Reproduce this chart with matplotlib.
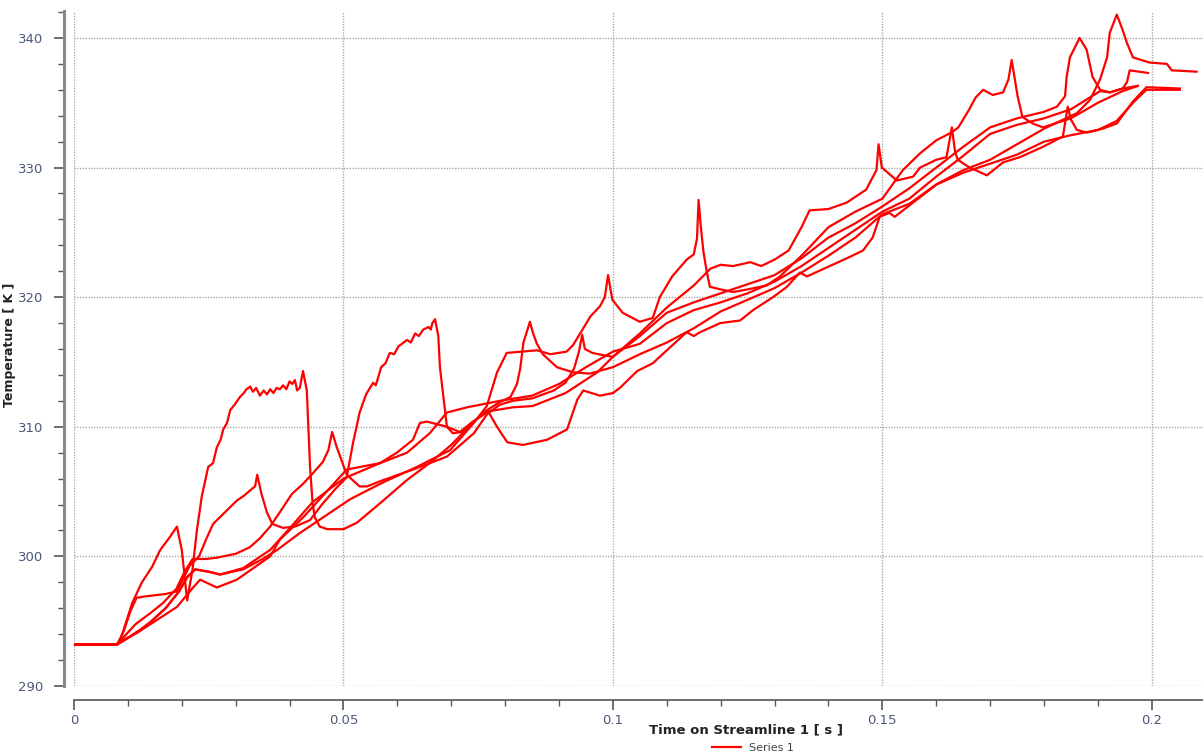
import numpy as np
import matplotlib
matplotlib.use("Agg")
import matplotlib.pyplot as plt
from matplotlib.ticker import MultipleLocator

# streamline temperature traces: (time [s], temperature [K])
stream1 = [(0, 293.2), (0.008, 293.2), (0.0088, 293.8), (0.0108, 296.4), (0.0126, 298.0), (0.0145, 299.2),
           (0.016, 300.5), (0.0178, 301.5), (0.0191, 302.3), (0.020, 300.5), (0.021, 296.6), (0.022, 299.0),
           (0.0228, 302.0), (0.0237, 304.6), (0.0249, 306.9), (0.0258, 307.2), (0.0265, 308.4), (0.0272, 309.0),
           (0.0277, 309.8), (0.0284, 310.3), (0.029, 311.3), (0.0298, 311.7), (0.0308, 312.3), (0.0315, 312.6),
           (0.032, 312.9), (0.0327, 313.1), (0.0332, 312.7), (0.0338, 313.0), (0.0345, 312.4), (0.0352, 312.8),
           (0.0358, 312.5), (0.0364, 312.9), (0.037, 312.6), (0.0376, 313.0), (0.0382, 312.9), (0.0388, 313.2),
           (0.0394, 312.9), (0.040, 313.5), (0.0405, 313.3), (0.041, 313.6), (0.0414, 312.8), (0.0419, 313.0),
           (0.0425, 314.3), (0.0432, 312.8), (0.0438, 306.9), (0.0443, 304.0), (0.0447, 303.0), (0.0456, 302.3),
           (0.047, 302.1), (0.05, 302.1), (0.0525, 302.6), (0.0568, 304.1), (0.0618, 305.9), (0.066, 307.2),
           (0.070, 308.6), (0.0742, 310.4), (0.0767, 311.3), (0.0785, 310.0), (0.0804, 308.8), (0.0833, 308.6),
           (0.0878, 309.0), (0.0915, 309.8), (0.0934, 312.1), (0.0945, 312.8), (0.0976, 312.4), (0.1, 312.6),
           (0.1013, 313.0), (0.1045, 314.3), (0.1074, 314.9), (0.110, 315.9), (0.1137, 317.3), (0.115, 317.0),
           (0.1162, 317.3), (0.1199, 318.0), (0.1236, 318.2), (0.126, 319.0), (0.1297, 320.0), (0.1323, 320.8),
           (0.1347, 321.9), (0.136, 321.6), (0.1397, 322.3), (0.1434, 323.0), (0.1464, 323.6), (0.1482, 324.6),
           (0.1495, 326.2), (0.1513, 326.5), (0.1523, 326.2), (0.1557, 327.3), (0.1601, 328.7), (0.165, 329.6),
           (0.17, 330.3), (0.175, 331.0), (0.18, 332.0), (0.185, 332.5), (0.19, 332.9), (0.1935, 333.6),
           (0.1965, 335.0), (0.199, 336.0), (0.2052, 336.0)]

stream2 = [(0, 293.2), (0.008, 293.2), (0.0092, 294.2), (0.0105, 295.8), (0.0116, 296.8), (0.013, 296.9),
           (0.015, 297.0), (0.017, 297.1), (0.0191, 297.3), (0.0203, 298.3), (0.0215, 299.3), (0.0232, 300.0),
           (0.0245, 301.3), (0.0258, 302.5), (0.028, 303.4), (0.0302, 304.3), (0.0316, 304.7), (0.0327, 305.1),
           (0.0336, 305.4), (0.034, 306.3), (0.0348, 304.8), (0.0358, 303.4), (0.0368, 302.5), (0.0388, 302.2),
           (0.041, 302.3), (0.0438, 302.8), (0.046, 304.0), (0.0485, 305.2), (0.0506, 306.1), (0.0518, 308.8),
           (0.053, 311.1), (0.0542, 312.5), (0.0555, 313.4), (0.056, 313.2), (0.057, 314.6), (0.0578, 314.9),
           (0.0586, 315.7), (0.0594, 315.6), (0.0602, 316.2), (0.0618, 316.7), (0.0625, 316.5), (0.0633, 317.2),
           (0.064, 317.0), (0.0648, 317.5), (0.0658, 317.7), (0.0662, 317.5), (0.0665, 318.0), (0.067, 318.3),
           (0.0676, 317.0), (0.0679, 314.6), (0.0692, 310.0), (0.0703, 309.5), (0.072, 309.6), (0.0742, 310.4),
           (0.0767, 311.3), (0.079, 311.9), (0.081, 312.3), (0.0822, 313.3), (0.0828, 314.5), (0.0834, 316.5),
           (0.0846, 318.1), (0.0852, 317.2), (0.0859, 316.4), (0.087, 315.6), (0.0896, 314.6), (0.0926, 314.2),
           (0.0957, 314.1), (0.1, 314.6), (0.105, 315.6), (0.11, 316.5), (0.115, 317.6), (0.12, 318.9),
           (0.125, 319.8), (0.13, 320.7), (0.135, 321.9), (0.14, 323.2), (0.145, 324.6), (0.15, 326.4),
           (0.155, 327.2), (0.16, 328.7), (0.165, 329.8), (0.17, 330.6), (0.175, 331.8), (0.18, 333.0),
           (0.1861, 334.2), (0.1885, 335.2), (0.1904, 336.8), (0.1917, 338.5), (0.1922, 340.4), (0.1935, 341.8),
           (0.1946, 340.6), (0.1954, 339.6), (0.1965, 338.5), (0.1996, 338.1), (0.2028, 338.0), (0.2037, 337.5),
           (0.2083, 337.4)]

stream3 = [(0, 293.2), (0.008, 293.2), (0.0095, 293.9), (0.0115, 294.8), (0.0141, 295.6), (0.0165, 296.4),
           (0.019, 297.5), (0.0205, 298.8), (0.022, 299.8), (0.0245, 299.8), (0.0265, 299.9), (0.03, 300.2),
           (0.0326, 300.7), (0.0345, 301.4), (0.0364, 302.3), (0.0385, 303.6), (0.0404, 304.8), (0.0425, 305.6),
           (0.0443, 306.4), (0.0462, 307.3), (0.0472, 308.2), (0.0479, 309.6), (0.0487, 308.5), (0.0494, 307.7),
           (0.0506, 306.3), (0.053, 305.4), (0.0544, 305.4), (0.0568, 305.8), (0.0629, 306.7), (0.0692, 307.7),
           (0.0742, 309.5), (0.0767, 311.0), (0.079, 311.7), (0.0814, 312.0), (0.0851, 312.2), (0.089, 312.8),
           (0.0912, 313.4), (0.0928, 314.5), (0.0937, 315.8), (0.0943, 317.1), (0.0948, 316.0), (0.0962, 315.7),
           (0.0985, 315.5), (0.1, 315.4), (0.105, 317.2), (0.11, 319.2), (0.115, 320.9), (0.1181, 322.2),
           (0.12, 322.5), (0.1223, 322.4), (0.1255, 322.7), (0.1275, 322.4), (0.13, 322.9), (0.1326, 323.6),
           (0.135, 325.4), (0.1365, 326.7), (0.14, 326.8), (0.1434, 327.3), (0.147, 328.3), (0.1489, 329.8),
           (0.1493, 331.8), (0.1499, 330.0), (0.1527, 329.0), (0.1557, 329.3), (0.157, 330.0), (0.16, 330.6),
           (0.1619, 330.8), (0.1629, 333.1), (0.1635, 331.2), (0.164, 330.6), (0.1662, 330.0), (0.1694, 329.4),
           (0.1724, 330.4), (0.1755, 330.8), (0.1798, 331.6), (0.1835, 332.4), (0.1844, 334.7), (0.185, 333.7),
           (0.1861, 332.9), (0.188, 332.7), (0.1909, 333.0), (0.1935, 333.4), (0.1965, 335.1), (0.199, 336.2),
           (0.2052, 336.1)]

stream4 = [(0, 293.2), (0.008, 293.2), (0.01, 293.7), (0.0125, 294.4), (0.0141, 294.9), (0.017, 296.0),
           (0.0195, 297.3), (0.021, 298.4), (0.0225, 299.0), (0.0252, 298.8), (0.0271, 298.6), (0.0314, 299.1),
           (0.0364, 300.5), (0.0401, 302.2), (0.0443, 304.2), (0.05, 306.0), (0.0568, 307.2), (0.0599, 308.0),
           (0.0629, 309.0), (0.0642, 310.3), (0.0655, 310.4), (0.0692, 310.0), (0.0716, 309.6), (0.074, 310.4),
           (0.077, 311.2), (0.0814, 311.5), (0.0851, 311.6), (0.0912, 312.6), (0.0971, 314.2), (0.1, 315.4),
           (0.105, 317.0), (0.11, 318.8), (0.115, 319.6), (0.12, 320.3), (0.125, 321.0), (0.13, 321.7),
           (0.135, 323.0), (0.14, 324.6), (0.145, 325.7), (0.15, 327.0), (0.155, 328.4), (0.16, 330.0),
           (0.165, 331.6), (0.17, 333.1), (0.175, 333.8), (0.18, 334.3), (0.1824, 334.7), (0.1839, 335.5),
           (0.1842, 337.0), (0.1848, 338.5), (0.1866, 340.0), (0.1879, 339.1), (0.189, 337.0), (0.1904, 336.0),
           (0.1922, 335.8), (0.1946, 336.1), (0.1974, 336.3)]

stream5 = [(0, 293.2), (0.008, 293.2), (0.0085, 293.4), (0.0117, 294.1), (0.0154, 295.1), (0.0191, 296.1),
           (0.0221, 297.6), (0.0234, 298.2), (0.0265, 297.6), (0.0302, 298.2), (0.0364, 300.0), (0.0382, 301.3),
           (0.0425, 303.0), (0.046, 304.6), (0.0506, 306.7), (0.0568, 307.2), (0.0618, 308.0), (0.066, 309.5),
           (0.0692, 311.1), (0.0729, 311.5), (0.0766, 311.8), (0.079, 312.0), (0.085, 312.4), (0.09, 313.3),
           (0.095, 314.6), (0.1, 315.8), (0.105, 316.4), (0.11, 318.0), (0.115, 319.0), (0.12, 319.6),
           (0.125, 320.3), (0.13, 321.2), (0.135, 322.4), (0.14, 323.8), (0.145, 325.2), (0.15, 326.6),
           (0.155, 327.6), (0.16, 329.3), (0.165, 330.9), (0.17, 332.6), (0.175, 333.3), (0.18, 333.8),
           (0.185, 334.5), (0.1904, 335.9), (0.1922, 335.8), (0.1946, 336.1), (0.1954, 336.6), (0.1959, 337.5),
           (0.1993, 337.3)]

stream6 = [(0, 293.2), (0.008, 293.2), (0.01, 293.7), (0.0125, 294.4), (0.0141, 294.9), (0.017, 296.0),
           (0.0195, 297.3), (0.021, 298.4), (0.0225, 299.0), (0.0252, 298.8), (0.0271, 298.6), (0.0314, 299.0),
           (0.035, 299.8), (0.0377, 300.5), (0.0419, 301.8), (0.0462, 303.0), (0.0512, 304.4), (0.0573, 305.7),
           (0.0636, 306.9), (0.0698, 308.2), (0.0742, 310.3), (0.0766, 311.6), (0.0785, 314.2), (0.0803, 315.7),
           (0.0859, 315.9), (0.0884, 315.6), (0.0914, 315.8), (0.0926, 316.3), (0.0945, 317.6), (0.0958, 318.5),
           (0.0976, 319.3), (0.0985, 320.0), (0.0991, 321.7), (0.0999, 319.8), (0.1018, 318.8), (0.105, 318.1),
           (0.1074, 318.4), (0.1087, 320.0), (0.111, 321.6), (0.1137, 322.9), (0.115, 323.3), (0.1156, 324.5),
           (0.1159, 327.5), (0.1163, 325.5), (0.1168, 323.5), (0.1174, 322.0), (0.118, 320.8), (0.12, 320.6),
           (0.1223, 320.4), (0.125, 320.6), (0.1285, 320.9), (0.131, 321.6), (0.135, 323.2), (0.14, 325.4),
           (0.145, 326.6), (0.15, 327.6), (0.1538, 329.8), (0.157, 331.1), (0.16, 332.1), (0.1628, 332.7),
           (0.1641, 333.1), (0.166, 334.4), (0.1673, 335.4), (0.1687, 336.0), (0.1705, 335.6), (0.1724, 335.8),
           (0.1734, 336.8), (0.174, 338.3), (0.1751, 335.5), (0.176, 333.9), (0.1779, 333.4), (0.1798, 333.1),
           (0.185, 333.8), (0.19, 335.0), (0.1946, 335.9), (0.1974, 336.3)]

streams = [stream1, stream2, stream3, stream4, stream5, stream6]
x_ticks = [0, 0.05, 0.1, 0.15, 0.2]
x_tick_labels = ["0", "0.05", "0.1", "0.15", "0.2"]
y_ticks = [290, 300, 310, 320, 330, 340]

fig = plt.figure(figsize=(12.03, 7.56), dpi=100)
ax = fig.add_axes([74 / 1203, 70 / 756, 1129 / 1203, 675 / 756])

for i, s in enumerate(streams):
    t, temp = np.array(s).T
    ax.plot(t, temp, color="#ff0000", lw=1.6, solid_joinstyle="round",
            label="Series 1" if i == 0 else None)

ax.set_xlim(0, 0.2095)
ax.set_ylim(290, 342.08)

tick_col = "#4a5878"
ax.set_xticks(x_ticks)
ax.set_xticklabels(x_tick_labels)
ax.set_yticks(y_ticks)
ax.xaxis.set_minor_locator(MultipleLocator(0.01))
ax.yaxis.set_minor_locator(MultipleLocator(2))
ax.tick_params(which="major", direction="out", length=7, width=1.2, color="#555555",
               labelsize=9.5, labelcolor=tick_col)
ax.tick_params(axis="y", which="major", pad=8)
ax.tick_params(axis="x", which="major", pad=3)
ax.tick_params(which="minor", direction="out", length=4, width=1.0, color="#555555")

ax.grid(True, which="major", color="#aaaaaa", linestyle=(0, (1, 1)), linewidth=1)

for side in ["top", "right"]:
    ax.spines[side].set_visible(False)
ax.spines["left"].set_position(("outward", 7))
ax.spines["bottom"].set_position(("outward", 10))
ax.spines["left"].set_color("#888888")
ax.spines["left"].set_linewidth(2.2)
ax.spines["bottom"].set_color("#555555")
ax.spines["bottom"].set_linewidth(1.2)

ax.set_xlabel("Time on Streamline 1 [ s ]", fontsize=9.5, fontweight="bold", color="#222222")
ax.xaxis.set_label_coords(672 / 1129, -0.056)
ax.set_ylabel("Temperature [ K ]", fontsize=9, fontweight="bold", color="#222222")
ax.yaxis.set_label_coords(-0.051, 0.505)

fig.legend(loc="center", bbox_to_anchor=(753 / 1203, 1 - 748 / 756), frameon=False,
           fontsize=8, handlelength=2.6, labelcolor="#444444")

fig.savefig("out.png", dpi=100)
